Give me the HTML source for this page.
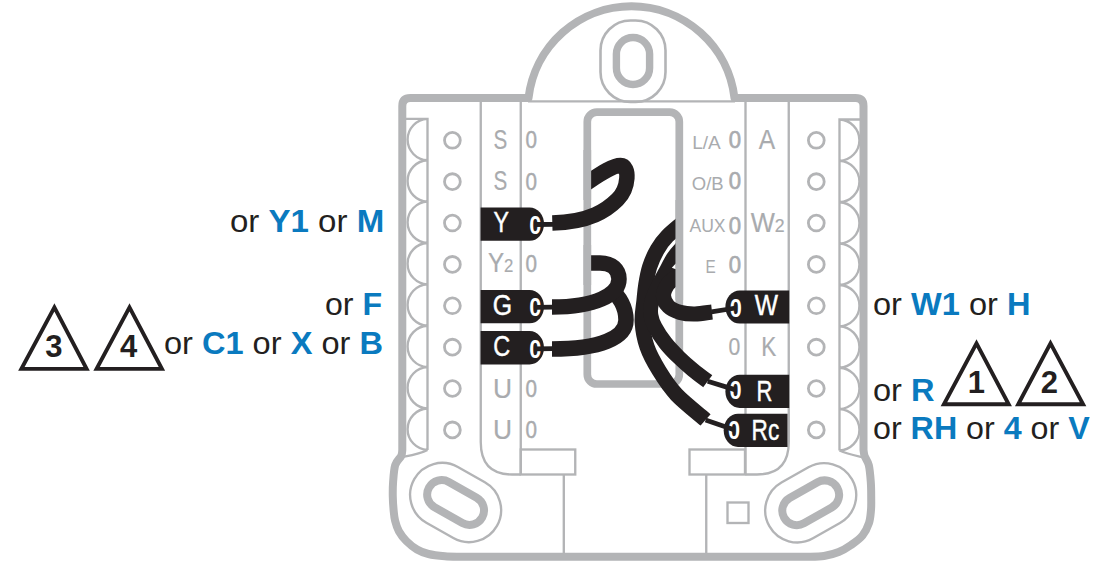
<!DOCTYPE html><html><head><meta charset="utf-8"><title>Wiring</title><style>html,body{margin:0;padding:0;background:#fff}svg{display:block}text{font-family:"Liberation Sans",sans-serif}</style></head><body>
<svg width="1096" height="571" viewBox="0 0 1096 571">
<rect width="1096" height="571" fill="#fff"/>
<g fill="none" stroke="#b3b4b6" stroke-linejoin="round">
<path stroke-width="8" d="M402.3,450 L402.3,106 Q402.3,98 410.3,98 L528.5,98 A103.7,103.7 0 0 1 734.5,98 L855.5,98 Q863.5,98 863.5,106 L863.5,450 C863.7,451.0 863.7,453.5 864.6,456 C865.5,458.5 867.8,460.9 868.8,465.2 C869.8,469.5 870.4,476.7 870.8,482 C871.2,487.3 871.2,492.3 871.2,497 C871.2,501.7 871.4,505.7 871,510 C870.6,514.3 870.4,518.8 869,523 C867.6,527.2 865.5,531.8 862.5,535.5 C859.5,539.2 855.1,542.2 851.1,545 C847.1,547.8 843.2,550.2 838.7,552 C834.2,553.8 829.1,555.2 824,556 C818.9,556.8 810.7,556.7 808,556.8  L460,556.8 C457.5,556.7 450.2,556.8 445,556.3 C439.8,555.8 433.2,555.1 428.5,554 C423.8,552.9 420.7,551.7 417,549.5 C413.3,547.3 409.3,544.0 406.3,541 C403.3,538.0 400.8,534.7 398.9,531.3 C397.0,527.9 396.0,524.2 395.1,520.7 C394.2,517.2 394.0,514.0 393.6,510 C393.2,506.1 392.9,501.7 392.8,497 C392.7,492.3 392.7,487.3 393.1,482 C393.5,476.7 393.9,469.5 395.2,465.2 C396.5,460.9 400.0,458.5 401.2,456 C402.4,453.5 402.1,451.0 402.3,450  Z"/>
<rect x="587.3" y="112.2" width="92" height="271.8" rx="9.5" stroke-width="7.7"/>
</g>
<g fill="none" stroke="#b3b4b6" stroke-width="2.35">
<path d="M528,101.4 L735,101.4"/>
<rect x="600.5" y="20.5" width="65" height="81.5" rx="30" stroke-width="2.6"/>
<rect x="616.4" y="37.5" width="33.2" height="47" rx="16.6" stroke-width="7.4"/>
<path d="M406,118.9 L427.5,118.9 L427.5,450 M427.5,118.9 A20.7,20.7 0 0 0 427.5,160.27 M427.5,160.27 A20.7,20.7 0 0 0 427.5,201.64000000000001 M427.5,201.64 A20.7,20.7 0 0 0 427.5,243.01 M427.5,243.01 A20.7,20.7 0 0 0 427.5,284.38 M427.5,284.38 A20.7,20.7 0 0 0 427.5,325.75 M427.5,325.75 A20.7,20.7 0 0 0 427.5,367.12 M427.5,367.12 A20.7,20.7 0 0 0 427.5,408.49 M427.5,408.49 A20.7,20.7 0 0 0 427.5,449.86 M427.5,450 C420,454 410,455.5 400,457.5"/>
<path d="M860,119.5 L839.5,119.5 L839.5,450.5 M839.5,119.5 A20.7,20.7 0 0 1 839.5,160.87 M839.5,160.87 A20.7,20.7 0 0 1 839.5,202.24 M839.5,202.24 A20.7,20.7 0 0 1 839.5,243.61 M839.5,243.60999999999999 A20.7,20.7 0 0 1 839.5,284.97999999999996 M839.5,284.98 A20.7,20.7 0 0 1 839.5,326.35 M839.5,326.35 A20.7,20.7 0 0 1 839.5,367.72 M839.5,367.71999999999997 A20.7,20.7 0 0 1 839.5,409.09 M839.5,409.09 A20.7,20.7 0 0 1 839.5,450.46 M839.5,450.5 C848,454.5 858,456 866,458"/>
<circle cx="452.4" cy="140.3" r="7.9" stroke-width="2.8"/>
<circle cx="816.3" cy="140.3" r="7.9" stroke-width="2.8"/>
<circle cx="452.4" cy="181.67000000000002" r="7.9" stroke-width="2.8"/>
<circle cx="816.3" cy="181.67000000000002" r="7.9" stroke-width="2.8"/>
<circle cx="452.4" cy="223.04000000000002" r="7.9" stroke-width="2.8"/>
<circle cx="816.3" cy="223.04000000000002" r="7.9" stroke-width="2.8"/>
<circle cx="452.4" cy="264.40999999999997" r="7.9" stroke-width="2.8"/>
<circle cx="816.3" cy="264.40999999999997" r="7.9" stroke-width="2.8"/>
<circle cx="452.4" cy="305.78" r="7.9" stroke-width="2.8"/>
<circle cx="816.3" cy="305.78" r="7.9" stroke-width="2.8"/>
<circle cx="452.4" cy="347.15" r="7.9" stroke-width="2.8"/>
<circle cx="816.3" cy="347.15" r="7.9" stroke-width="2.8"/>
<circle cx="452.4" cy="388.52" r="7.9" stroke-width="2.8"/>
<circle cx="816.3" cy="388.52" r="7.9" stroke-width="2.8"/>
<circle cx="452.4" cy="429.89" r="7.9" stroke-width="2.8"/>
<circle cx="816.3" cy="429.89" r="7.9" stroke-width="2.8"/>
<path d="M480.75,101 L480.75,442 Q480.75,474.5 512,474.5 L520.75,474.5 M520.75,101 L520.75,474.5"/>
<path d="M788.75,101 L788.75,442 Q788.75,474.5 757,474.5 L745.5,474.5 M745.5,101 L745.5,474.5"/>
<rect x="520.75" y="449.5" width="54.5" height="25"/>
<rect x="689.5" y="449.5" width="55.5" height="25"/>
<path d="M563.8,474.5 L563.8,554 M706.25,474.5 L706.25,554"/>
<rect x="727.5" y="502.5" width="21" height="20.5"/>
<g transform="translate(455.6,502.5) rotate(29.5)"><rect x="-47.5" y="-32" width="95" height="64" rx="32"/><rect x="-30.5" y="-14.5" width="61" height="29" rx="14.5" stroke-width="8"/></g>
<g transform="translate(810.7,502.8) rotate(-29.5)"><rect x="-47.5" y="-32" width="95" height="64" rx="32"/><rect x="-30.5" y="-14.5" width="61" height="29" rx="14.5" stroke-width="8"/></g>
</g>
<g>
<text stroke="#a9abae" stroke-width="0.2" transform="translate(500.4,148.8) scale(0.75,1)" font-size="27.5" text-anchor="middle" fill="#a9abae" font-weight="normal">S</text>
<text stroke="#a9abae" stroke-width="0.45" transform="translate(531.2,148.3) scale(0.84,1)" font-size="24.6" text-anchor="middle" fill="#a9abae" font-weight="normal">0</text>
<text stroke="#a9abae" stroke-width="0.2" transform="translate(500.4,190.07000000000002) scale(0.75,1)" font-size="27.5" text-anchor="middle" fill="#a9abae" font-weight="normal">S</text>
<text stroke="#a9abae" stroke-width="0.45" transform="translate(531.2,189.67000000000002) scale(0.84,1)" font-size="24.6" text-anchor="middle" fill="#a9abae" font-weight="normal">0</text>
<text stroke="#a9abae" stroke-width="0.2" transform="translate(500.6,271.60999999999996) scale(0.88,1)" font-size="27.5" text-anchor="middle" fill="#a9abae" font-weight="normal">Y<tspan font-size="19">2</tspan></text>
<text stroke="#a9abae" stroke-width="0.45" transform="translate(531.2,272.40999999999997) scale(0.84,1)" font-size="24.6" text-anchor="middle" fill="#a9abae" font-weight="normal">0</text>
<text stroke="#a9abae" stroke-width="0.2" transform="translate(502.5,397.62) scale(0.96,1)" font-size="27.5" text-anchor="middle" fill="#a9abae" font-weight="normal">U</text>
<text stroke="#a9abae" stroke-width="0.45" transform="translate(531.2,396.52) scale(0.84,1)" font-size="24.6" text-anchor="middle" fill="#a9abae" font-weight="normal">0</text>
<text stroke="#a9abae" stroke-width="0.2" transform="translate(502.5,438.59) scale(0.96,1)" font-size="27.5" text-anchor="middle" fill="#a9abae" font-weight="normal">U</text>
<text stroke="#a9abae" stroke-width="0.45" transform="translate(531.2,437.89) scale(0.84,1)" font-size="24.6" text-anchor="middle" fill="#a9abae" font-weight="normal">0</text>
<text transform="translate(706.5,148.9) scale(1.02,1)" font-size="18.7" text-anchor="middle" fill="#a9abae" font-weight="normal">L/A</text>
<text stroke="#a9abae" stroke-width="0.7" transform="translate(735,148.1) scale(0.9,1)" font-size="24.6" text-anchor="middle" fill="#a9abae" font-weight="normal">0</text>
<text transform="translate(707.7,190.27) scale(0.99,1)" font-size="18.7" text-anchor="middle" fill="#a9abae" font-weight="normal">O/B</text>
<text stroke="#a9abae" stroke-width="0.7" transform="translate(735,189.47) scale(0.9,1)" font-size="24.6" text-anchor="middle" fill="#a9abae" font-weight="normal">0</text>
<text transform="translate(707.5,231.64000000000001) scale(0.94,1)" font-size="18.7" text-anchor="middle" fill="#a9abae" font-weight="normal">AUX</text>
<text stroke="#a9abae" stroke-width="0.7" transform="translate(735,233.64000000000001) scale(0.9,1)" font-size="24.6" text-anchor="middle" fill="#a9abae" font-weight="normal">0</text>
<text transform="translate(710.5,273.01) scale(0.82,1)" font-size="18.7" text-anchor="middle" fill="#a9abae" font-weight="normal">E</text>
<text stroke="#a9abae" stroke-width="0.7" transform="translate(735,272.71) scale(0.9,1)" font-size="24.6" text-anchor="middle" fill="#a9abae" font-weight="normal">0</text>
<text stroke="#a9abae" stroke-width="0.2" transform="translate(767,148.8) scale(0.895,1)" font-size="27.5" text-anchor="middle" fill="#a9abae" font-weight="normal">A</text>
<text stroke="#a9abae" stroke-width="0.2" transform="translate(767.7,231.54000000000002) scale(0.93,1)" font-size="27.5" text-anchor="middle" fill="#a9abae" font-weight="normal">W<tspan font-size="19">2</tspan></text>
<text stroke="#a9abae" stroke-width="0.2" transform="translate(768.7,355.65) scale(0.82,1)" font-size="27.5" text-anchor="middle" fill="#a9abae" font-weight="normal">K</text>
<text stroke="#a9abae" stroke-width="0.2" transform="translate(734.5,355.15) scale(0.86,1)" font-size="24.6" text-anchor="middle" fill="#a9abae" font-weight="normal">0</text>
</g>
<defs><clipPath id="cy"><path d="M587,0 H1096 V571 H0 V200 H587 Z"/></clipPath><clipPath id="cg"><path d="M587,0 H1096 V571 H0 V282 H587 Z"/></clipPath><clipPath id="cr"><path d="M0,0 H680 V297 H1096 V571 H0 Z"/></clipPath></defs>
<g fill="none" stroke="#231f20" stroke-width="15.5">
<path clip-path="url(#cy)" d="M582,186 C596,177 611,165.5 620.5,165.5 C630,165.5 629,188 617.5,199.5 C607,210 590,222 552.3,223"/>
<path d="M612,291 C619,296 626,307 626,320 C626,338 600,349 552,349"/>
<path clip-path="url(#cg)" d="M584,263 L600,263 C612,263 619,270 619,279 C619,295 595,307 552,307.1"/>
<path clip-path="url(#cr)" stroke-width="15.2" d="M688,218.5 C684.6,221.4 672.6,230.8 667.5,236 C662.4,241.2 660.3,244.4 657.3,249.6 C654.3,254.8 651.5,261.1 649.6,267 C647.7,272.9 646.7,279.1 645.8,284.7 C644.9,290.3 644.6,294.6 644,300.8 C643.4,307.0 641.7,314.3 642.2,322 C642.7,329.7 644.2,338.7 647,346.8 C649.8,354.9 654.0,362.4 658.9,370.4 C663.8,378.4 668.8,386.4 676.6,394.7 C684.4,402.9 700.8,415.7 705.6,419.9 "/>
<path clip-path="url(#cr)" stroke-width="15" d="M690,240 C688.5,241.4 684.0,245.3 681.2,248.3 C678.4,251.3 676.0,254.1 673.4,258 C670.8,261.9 668.5,266.8 665.8,271.8 C663.1,276.8 659.7,282.8 657.3,288 C654.9,293.2 652.6,298.5 651.5,303 C650.4,307.5 650.2,311.0 650.8,315 C651.4,319.0 652.5,322.3 655,327 C657.5,331.7 661.5,337.9 665.5,343 C669.5,348.1 674.4,353.0 679,357.5 C683.6,362.0 688.2,366.0 693,370 C697.8,374.0 705.2,379.4 707.7,381.3 "/>
<path clip-path="url(#cr)" stroke-width="15.2" d="M690,269 C687.5,270.5 678.8,275.3 675,278 C671.2,280.7 669.2,282.0 667.3,285 C665.4,288.0 663.3,292.4 663.5,296 C663.7,299.6 665.8,303.8 668.5,306.5 C671.2,309.2 675.6,311.1 680,312.3 C684.4,313.6 689.7,314.1 695,314 C700.3,313.9 709.2,312.3 712,312 "/>
</g>
<path d="M671.8,267.8 L675.8,263.6 L675.8,269.2 Z" fill="#fff"/>
<path d="M587.3,150 L587.3,200 M587.3,245 L587.3,285" fill="none" stroke="#b3b4b6" stroke-width="7.7"/>
<path d="M679.3,200 L679.3,300" fill="none" stroke="#b3b4b6" stroke-width="7.7"/>
<g fill="#231f20" stroke="none">
<path d="M480.6,207.4 L529.6,207.4 A14.4,16.7 0 0 1 529.6,240.79999999999998 L480.6,240.79999999999998 Z"/>
<path d="M480.6,289.90000000000003 L529.6,289.90000000000003 A14.4,16.7 0 0 1 529.6,323.3 L480.6,323.3 Z"/>
<path d="M480.6,331.1 L529.6,331.1 A14.4,16.7 0 0 1 529.6,364.5 L480.6,364.5 Z"/>
<path d="M789.2,290.4 L739.7,290.4 A14.3,16.6 0 0 0 739.7,323.6 L789.2,323.6 Z"/>
<path d="M789.2,374.7 L739.7,374.7 A14.3,16.6 0 0 0 739.7,407.90000000000003 L789.2,407.90000000000003 Z"/>
<path d="M787.5,413.7 L738.0,413.7 A14.3,16.6 0 0 0 738.0,446.90000000000003 L787.5,446.90000000000003 Z"/>
</g>
<text stroke="#fff" stroke-width="0.45" transform="translate(501.3,232.0) scale(0.81,1)" font-size="28.6" text-anchor="middle" fill="#fff" font-weight="normal">Y</text>
<text transform="translate(535.3,233.55) scale(0.85,1)" font-size="25.5" text-anchor="middle" fill="#fff" font-weight="bold">0</text>
<text stroke="#fff" stroke-width="0.45" transform="translate(502.3,314.6) scale(0.87,1)" font-size="28.6" text-anchor="middle" fill="#fff" font-weight="normal">G</text>
<text transform="translate(535.3,316.35) scale(0.85,1)" font-size="25.5" text-anchor="middle" fill="#fff" font-weight="bold">0</text>
<text stroke="#fff" stroke-width="0.45" transform="translate(501.6,355.9) scale(0.82,1)" font-size="28.6" text-anchor="middle" fill="#fff" font-weight="normal">C</text>
<text transform="translate(535.3,357.85) scale(0.85,1)" font-size="25.5" text-anchor="middle" fill="#fff" font-weight="bold">0</text>
<text stroke="#fff" stroke-width="0.45" transform="translate(766.3,315.2) scale(0.86,1)" font-size="28.6" text-anchor="middle" fill="#fff" font-weight="normal">W</text>
<text transform="translate(735.8,317.05) scale(0.85,1)" font-size="25.5" text-anchor="middle" fill="#fff" font-weight="bold">0</text>
<text stroke="#fff" stroke-width="0.45" transform="translate(764.4,400.9) scale(0.77,1)" font-size="28.6" text-anchor="middle" fill="#fff" font-weight="normal">R</text>
<text transform="translate(735.6,398.95) scale(0.85,1)" font-size="25.5" text-anchor="middle" fill="#fff" font-weight="bold">0</text>
<text stroke="#fff" stroke-width="0.45" transform="translate(765.4,440.1) scale(0.79,1)" font-size="28.6" text-anchor="middle" fill="#fff" font-weight="normal">Rc</text>
<text transform="translate(734.0,438.75) scale(0.85,1)" font-size="25.5" text-anchor="middle" fill="#fff" font-weight="bold">0</text>
<g fill="none" stroke="#231f20" stroke-width="4.8">
<path d="M535.3,224.5 L553,224.3"/>
<path d="M535.3,307.3 L553,307.1"/>
<path d="M535.3,348.8 L553,348.6"/>
<path d="M711.4,311.8 L735.8,308.0"/>
<path d="M707.7,381.3 L735.6,389.9"/>
<path d="M705.6,419.9 L734.0,429.7"/>
</g>
<text transform="translate(384.2,231.7) scale(1.0331,1)" font-size="32" text-anchor="end" fill="#231f20">or <tspan font-weight="bold" fill="#0a7abf">Y1</tspan> or <tspan font-weight="bold" fill="#0a7abf">M</tspan></text>
<text transform="translate(382,314.6) scale(1.0039,1)" font-size="32" text-anchor="end" fill="#231f20">or <tspan font-weight="bold" fill="#0a7abf">F</tspan></text>
<text transform="translate(383,354.3) scale(1.0185,1)" font-size="32" text-anchor="end" fill="#231f20">or <tspan font-weight="bold" fill="#0a7abf">C1</tspan> or <tspan font-weight="bold" fill="#0a7abf">X</tspan> or <tspan font-weight="bold" fill="#0a7abf">B</tspan></text>
<text transform="translate(873,314.5) scale(1.0185,1)" font-size="32" text-anchor="start" fill="#231f20">or <tspan font-weight="bold" fill="#0a7abf">W1</tspan> or <tspan font-weight="bold" fill="#0a7abf">H</tspan></text>
<text transform="translate(873,400.5) scale(1.0185,1)" font-size="32" text-anchor="start" fill="#231f20">or <tspan font-weight="bold" fill="#0a7abf">R</tspan></text>
<text transform="translate(873,438.8) scale(1.0069,1)" font-size="32" text-anchor="start" fill="#231f20">or <tspan font-weight="bold" fill="#0a7abf">RH</tspan> or <tspan font-weight="bold" fill="#0a7abf">4</tspan> or <tspan font-weight="bold" fill="#0a7abf">V</tspan></text>
<path d="M54.4,307.3 L86.6,368.85 L21.4,368.85 Z" fill="none" stroke="#231f20" stroke-width="3.9" stroke-linejoin="miter"/><text x="53.9" y="357.45000000000005" font-size="31" font-weight="bold" text-anchor="middle" fill="#231f20">3</text>
<path d="M129.5,307.3 L161.9,368.85 L96.6,368.85 Z" fill="none" stroke="#231f20" stroke-width="3.9" stroke-linejoin="miter"/><text x="128.7" y="357.45000000000005" font-size="31" font-weight="bold" text-anchor="middle" fill="#231f20">4</text>
<path d="M976.5,343.3 L1008.7,404.25 L943.9,404.25 Z" fill="none" stroke="#231f20" stroke-width="3.9" stroke-linejoin="miter"/><text x="976.3" y="392.85" font-size="31" font-weight="bold" text-anchor="middle" fill="#231f20">1</text>
<path d="M1050.5,343.3 L1083.1,404.25 L1018.2,404.25 Z" fill="none" stroke="#231f20" stroke-width="3.9" stroke-linejoin="miter"/><text x="1049.3" y="392.85" font-size="31" font-weight="bold" text-anchor="middle" fill="#231f20">2</text>
</svg></body></html>
